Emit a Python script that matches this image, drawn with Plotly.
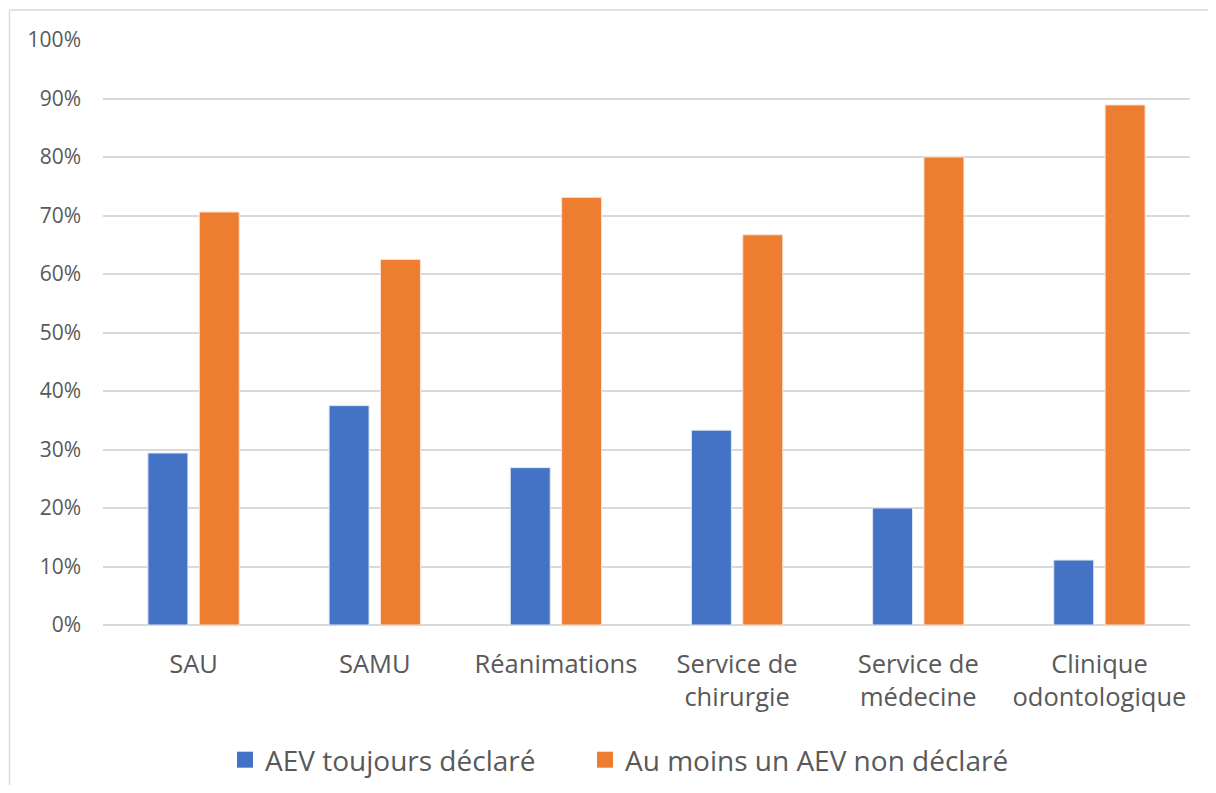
import plotly.graph_objects as go

categories = ["SAU", "SAMU", "Réanimations", "Service de<br>chirurgie", "Service de<br>médecine", "Clinique<br>odontologique"]
declare_toujours = [0.294, 0.375, 0.269, 0.333, 0.200, 0.111]
non_declare = [0.706, 0.625, 0.731, 0.667, 0.800, 0.889]
series_names = ["AEV toujours déclaré", "Au moins un AEV non déclaré"]
series_colors = ["#4472C4", "#ED7D31"]

# page has an 8px body margin; figure sized so that page fits exactly 1216x793
OFF = 8
W, H = 1216 - 2 * OFF, 793 - 2 * OFF
ml, mt = 103 - OFF, 40 - OFF
mr = W - (1190 - OFF)
mb = H - (625 - OFF)
pw, ph = W - ml - mr, H - mt - mb


def px_to_paper_x(px):
    return (px - OFF - ml) / pw


def px_to_paper_y(py):
    return (H - mb - (py - OFF)) / ph


fig = go.Figure()
for vals, name, col, edge in [(declare_toujours, series_names[0], series_colors[0], "#dfe6f4"),
                              (non_declare, series_names[1], series_colors[1], "#fbe3d4")]:
    fig.add_trace(go.Bar(x=categories, y=vals, name=name, showlegend=False,
                         marker=dict(color=col, line=dict(color=edge, width=1))))
legend_ids = ["legend", "legend2"]
for name, col, lid in zip(series_names, series_colors, legend_ids):
    fig.add_trace(go.Scatter(x=[None], y=[None], mode="markers", name=name, legend=lid,
                             marker=dict(symbol="square", size=18, color=col)))

# chart-area frame (top and left edges visible)
fig.add_shape(type="line", xref="paper", yref="paper",
              x0=px_to_paper_x(9.5), x1=px_to_paper_x(1216), y0=px_to_paper_y(10), y1=px_to_paper_y(10),
              line=dict(color="#d9d9d9", width=1.5), layer="below")
fig.add_shape(type="line", xref="paper", yref="paper",
              x0=px_to_paper_x(9.5), x1=px_to_paper_x(9.5), y0=px_to_paper_y(10), y1=px_to_paper_y(800),
              line=dict(color="#d9d9d9", width=1.5), layer="below")


def legend_style(left_px):
    return dict(orientation="h", xref="container", yref="container",
                x=(left_px - OFF) / W, xanchor="left",
                y=(H - (760 - OFF)) / H, yanchor="middle",
                font=dict(size=28, color="#595959"), itemwidth=30,
                itemsizing="trace", bgcolor="rgba(0,0,0,0)")


fig.update_layout(
    width=W, height=H,
    margin=dict(l=ml, r=mr, t=mt, b=mb, autoexpand=False),
    paper_bgcolor="white", plot_bgcolor="white",
    barmode="group", bargap=0.433, bargroupgap=0.222,
    font=dict(family="Open Sans, sans-serif", color="#595959"),
    legend=legend_style(225),
    legend2=legend_style(585),
    showlegend=True,
)
fig.update_yaxes(range=[0, 1], dtick=0.1, tickformat=".0%", gridcolor="#d9d9d9", gridwidth=1.5,
                 zeroline=True, zerolinecolor="#d9d9d9", zerolinewidth=1.5, automargin=False,
                 showline=False, tickfont=dict(size=21, color="#595959"), ticklabelstandoff=21)
fig.update_xaxes(showline=False, showgrid=False, tickfont=dict(size=25.5, color="#595959"),
                 ticklabelstandoff=21, automargin=False)

fig.write_html("out.html")
